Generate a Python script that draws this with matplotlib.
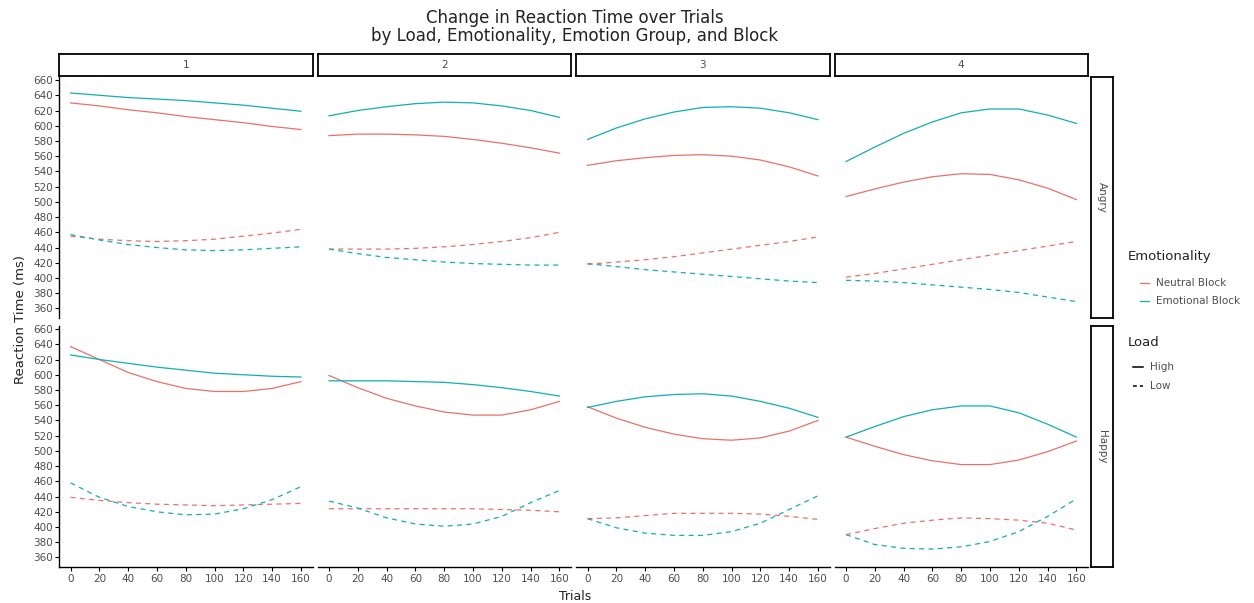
import matplotlib
matplotlib.use('Agg')
import matplotlib.pyplot as plt
from matplotlib.lines import Line2D

plt.rcParams.update({'font.family': ['DejaVu Sans'], 'font.size': 8})

trials = [0, 20, 40, 60, 80, 100, 120, 140, 160]
blocks = ['1', '2', '3', '4']
groups = ['Angry', 'Happy']

# reaction time (ms), one list per block
angry_neutral_high = [[630, 626, 621, 617, 612, 608, 604, 599, 595],
                      [587, 589, 589, 588, 586, 582, 577, 571, 564],
                      [548, 554, 558, 561, 562, 560, 555, 546, 534],
                      [507, 517, 526, 533, 537, 536, 529, 518, 503]]
angry_emotional_high = [[643, 640, 637, 635, 633, 630, 627, 623, 619],
                        [613, 620, 625, 629, 631, 630, 626, 620, 611],
                        [582, 597, 609, 618, 624, 625, 623, 617, 608],
                        [553, 572, 590, 605, 617, 622, 622, 614, 603]]
angry_neutral_low = [[455, 451, 449, 448, 449, 451, 455, 459, 464],
                     [438, 438, 438, 439, 441, 444, 448, 453, 460],
                     [418, 421, 424, 428, 433, 438, 443, 448, 454],
                     [401, 406, 412, 418, 424, 430, 436, 442, 448]]
angry_emotional_low = [[457, 450, 444, 440, 437, 436, 437, 439, 441],
                       [438, 432, 427, 424, 421, 419, 418, 417, 417],
                       [419, 415, 411, 408, 405, 402, 399, 396, 394],
                       [397, 396, 394, 391, 388, 385, 381, 375, 369]]
happy_neutral_high = [[637, 620, 603, 591, 582, 578, 578, 582, 591],
                      [599, 583, 569, 559, 551, 547, 547, 554, 565],
                      [558, 543, 531, 522, 516, 514, 517, 526, 540],
                      [518, 506, 495, 487, 482, 482, 488, 499, 513]]
happy_emotional_high = [[626, 620, 615, 610, 606, 602, 600, 598, 597],
                        [592, 592, 592, 591, 590, 587, 583, 578, 572],
                        [557, 565, 571, 574, 575, 572, 565, 556, 544],
                        [518, 532, 545, 554, 559, 559, 550, 535, 518]]
happy_neutral_low = [[439, 435, 432, 430, 429, 428, 429, 430, 431],
                     [424, 424, 424, 424, 424, 424, 423, 422, 420],
                     [411, 412, 415, 418, 418, 418, 417, 414, 410],
                     [390, 398, 405, 409, 412, 411, 409, 405, 396]]
happy_emotional_low = [[458, 439, 427, 420, 416, 417, 424, 436, 453],
                       [434, 425, 412, 404, 401, 404, 414, 432, 448],
                       [411, 399, 392, 389, 389, 394, 405, 423, 441],
                       [390, 377, 372, 371, 374, 381, 394, 414, 437]]

series = {
    'Angry': [(angry_neutral_high, 'n', '-'), (angry_emotional_high, 'e', '-'),
              (angry_neutral_low, 'n', '--'), (angry_emotional_low, 'e', '--')],
    'Happy': [(happy_neutral_high, 'n', '-'), (happy_emotional_high, 'e', '-'),
              (happy_neutral_low, 'n', '--'), (happy_emotional_low, 'e', '--')],
}
COL = {'n': '#E8726A', 'e': '#10AFB4'}
GREY = '#4D4D4D'
W, H = 1254, 603

def fr(x0, y0, x1, y1):
    # pixel box -> figure fraction rect
    return [x0 / W, 1 - y1 / H, (x1 - x0) / W, (y1 - y0) / H]

fig = plt.figure(figsize=(12.54, 6.03), dpi=100)
col_left = [59, 317.5, 576, 834.5]
pw = 253.5
row_top = [77, 326]
ph = 241

for r, g in enumerate(groups):
    for c, b in enumerate(blocks):
        ax = fig.add_axes(fr(col_left[c], row_top[r], col_left[c] + pw, row_top[r] + ph))
        for data, emo, ls in series[g]:
            ax.plot(trials, data[c], color=COL[emo], lw=0.9, ls=ls,
                    dashes=(4, 3.5) if ls == '--' else (None, None))
        ax.set_xlim(-8, 168)
        ax.set_ylim(347.5, 664)
        ax.set_xticks(range(0, 161, 20))
        ax.set_yticks(range(360, 661, 20))
        for s in ('top', 'right'):
            ax.spines[s].set_visible(False)
        ax.spines['left'].set_visible(c == 0)
        ax.spines['bottom'].set_visible(r == 1)
        ax.spines['left'].set_linewidth(1.0)
        ax.spines['bottom'].set_linewidth(1.0)
        ax.tick_params(axis='y', left=(c == 0), labelleft=(c == 0), length=3, width=0.8,
                       labelsize=7.5, labelcolor=GREY, pad=1.5)
        ax.tick_params(axis='x', bottom=(r == 1), labelbottom=(r == 1), length=3, width=0.8,
                       labelsize=7.5, labelcolor=GREY, pad=2)
        # column strips on the top row
        if r == 0:
            sax = fig.add_axes(fr(col_left[c], 54, col_left[c] + pw, 76))
            sax.set_xticks([]); sax.set_yticks([])
            for s in sax.spines.values():
                s.set_linewidth(1.3)
            sax.text(0.5, 0.5, b, ha='center', va='center', fontsize=7.5, color=GREY,
                     transform=sax.transAxes)
    # row strip on the right
    rax = fig.add_axes(fr(1091, row_top[r], 1113, row_top[r] + ph))
    rax.set_xticks([]); rax.set_yticks([])
    for s in rax.spines.values():
        s.set_linewidth(1.3)
    rax.text(0.5, 0.5, g, ha='center', va='center', rotation=-90, fontsize=7.5,
             color=GREY, transform=rax.transAxes)

fig.text(575 / W, 1 - 27 / H, 'Change in Reaction Time over Trials\nby Load, Emotionality, Emotion Group, and Block',
         ha='center', va='center', fontsize=12, color='#222222', linespacing=1.05)
fig.text(21 / W, 1 - 320 / H, 'Reaction Time (ms)', rotation=90, ha='center', va='center',
         fontsize=9.5, color='#222222')
fig.text(575 / W, 1 - 596 / H, 'Trials', ha='center', va='center', fontsize=9, color='#222222')

# legends
lx = 1128
fig.text(lx / W, 1 - 257 / H, 'Emotionality', ha='left', va='center', fontsize=9.5, color='#222222')
for y, lab, emo in [(283, 'Neutral Block', 'n'), (301, 'Emotional Block', 'e')]:
    fig.add_artist(Line2D([(lx + 12) / W, (lx + 21) / W], [1 - y / H] * 2, color=COL[emo], lw=0.9))
    fig.text((lx + 28) / W, 1 - y / H, lab, ha='left', va='center', fontsize=7.5, color=GREY)
fig.text(lx / W, 1 - 343 / H, 'Load', ha='left', va='center', fontsize=9.5, color='#222222')
for y, lab, ls in [(367, 'High', '-'), (386, 'Low', '--')]:
    fig.add_artist(Line2D([(lx + 5) / W, (lx + 15) / W], [1 - y / H] * 2, color='black', lw=1.1,
                          ls=ls, dashes=(2.5, 2) if ls == '--' else (None, None)))
    fig.text((lx + 22) / W, 1 - y / H, lab, ha='left', va='center', fontsize=7.5, color=GREY)

fig.savefig('out.png', dpi=100, facecolor='white')
